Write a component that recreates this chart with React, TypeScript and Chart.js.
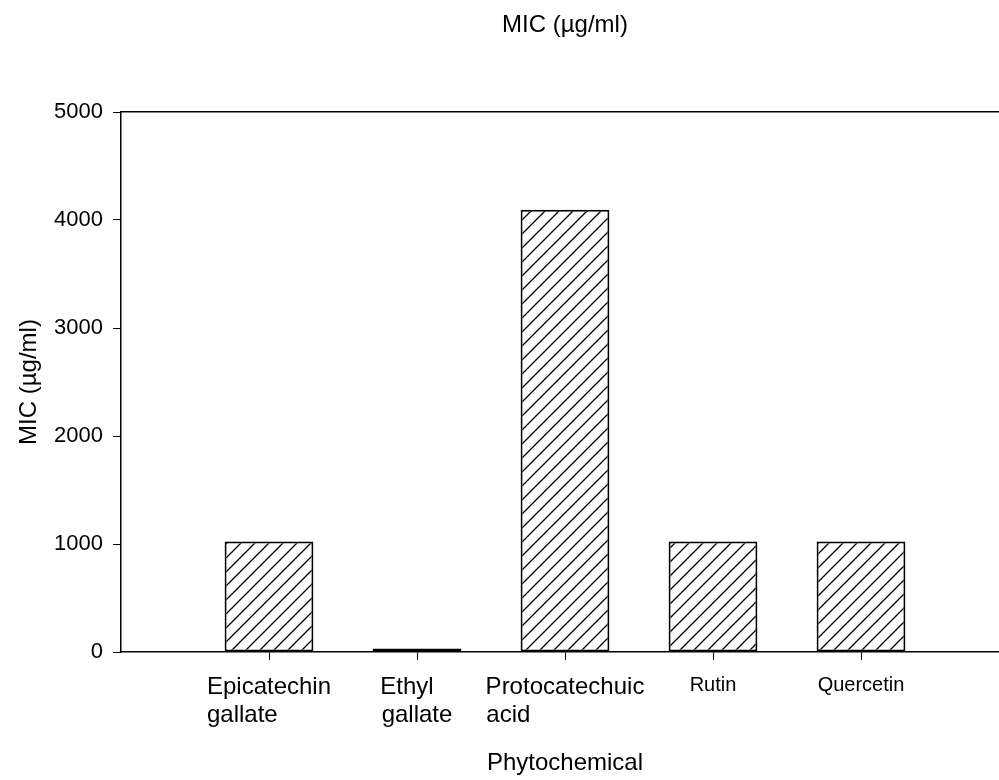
import React, { useEffect, useRef } from "react";
import { Chart, registerables } from "chart.js";

Chart.register(...registerables);

const categoryLabels: string[][] = [
  ["Epicatechin", "gallate"],
  ["Ethyl", "gallate"],
  ["Protocatechuic", "acid"],
  ["Rutin"],
  ["Quercetin"],
];
const categoryPositions = [1, 2, 3, 4, 5];
const micValues = [1024, 32, 4096, 1024, 1024];
const yTickValues = [0, 1000, 2000, 3000, 4000, 5000];
const titleText = "MIC (\u00b5g/ml)";
const xTitleText = "Phytochemical";

const FONT = "'Liberation Sans', Arial, sans-serif";

function makeHatch(): CanvasPattern | string {
  const s = 14;
  const c = document.createElement("canvas");
  c.width = s;
  c.height = s;
  const g = c.getContext("2d");
  if (!g) return "#fff";
  g.fillStyle = "#ffffff";
  g.fillRect(0, 0, s, s);
  g.strokeStyle = "#000000";
  g.lineWidth = 1.3;
  g.beginPath();
  g.moveTo(0, s);
  g.lineTo(s, 0);
  g.moveTo(-s / 2, s / 2);
  g.lineTo(s / 2, -s / 2);
  g.moveTo(s / 2, s + s / 2);
  g.lineTo(s + s / 2, s / 2);
  g.stroke();
  const p = g.createPattern(c, "repeat");
  return p || "#fff";
}

function padLabels(labels: string[][], sizes: number[]): string[][] {
  const c = document.createElement("canvas");
  const g = c.getContext("2d");
  if (!g) return labels;
  return labels.map((lines, i) => {
    g.font = `${sizes[i]}px ${FONT}`;
    const maxW = Math.max(...lines.map((l) => g.measureText(l).width));
    const sp = g.measureText(" ").width;
    return lines.map((l) => {
      let s = l;
      while (g.measureText(s + " ").width <= maxW + sp / 2) s += " ";
      return s;
    });
  });
}

export default function App() {
  const ref = useRef<HTMLCanvasElement | null>(null);

  useEffect(() => {
    const canvas = ref.current;
    if (!canvas) return;
    const tickSizes = categoryLabels.map((_, i) => (i >= 3 ? 20 : 24));
    const padded = padLabels(categoryLabels, tickSizes);
    const hatch = makeHatch();

    const chart = new Chart(canvas, {
      type: "bar",
      data: {
        datasets: [
          {
            data: micValues.map((v, i) => ({ x: categoryPositions[i], y: v })),
            backgroundColor: hatch as any,
            borderColor: "#000000",
            borderWidth: 2,
            borderSkipped: false,
            barPercentage: 0.6,
            categoryPercentage: 1,
          },
        ],
      },
      options: {
        animation: false,
        responsive: false,
        devicePixelRatio: 1,
        layout: { padding: 0 },
        plugins: {
          legend: { display: false },
          tooltip: { enabled: false },
          title: { display: false },
        },
        scales: {
          x: {
            type: "linear",
            position: "bottom",
            min: 0,
            max: 6,
            offset: false,
            afterBuildTicks: (scale: any) => {
              scale.ticks = categoryPositions.map((v) => ({ value: v }));
            },
            afterFit: (scale: any) => {
              scale.height = 128;
            },
            ticks: {
              autoSkip: false,
              maxRotation: 0,
              minRotation: 0,
              padding: 14,
              color: "#000000",
              font: (ctx: any) => {
                const idx = categoryPositions.indexOf(ctx.tick ? ctx.tick.value : -1);
                return { family: FONT, size: idx >= 3 ? 20 : 24, lineHeight: 1.15 };
              },
              callback: (value: any) => {
                const idx = categoryPositions.indexOf(Number(value));
                return idx >= 0 ? padded[idx] : "";
              },
            },
            grid: {
              display: true,
              offset: false,
              drawOnChartArea: false,
              drawTicks: true,
              tickLength: 8,
              color: "#000000",
              lineWidth: 1,
            },
            border: { display: true, color: "#000000", width: 1.5 },
            title: {
              display: true,
              text: xTitleText,
              color: "#000000",
              font: { family: FONT, size: 24 },
              padding: { top: 0, bottom: 2 },
            },
          },
          x2: {
            type: "linear",
            position: "top",
            min: 0,
            max: 6,
            offset: false,
            afterFit: (scale: any) => {
              scale.height = 112;
            },
            ticks: { display: false },
            grid: { display: false, offset: false },
            border: { display: true, color: "#000000", width: 1.5 },
            title: {
              display: true,
              text: titleText,
              color: "#000000",
              font: { family: FONT, size: 24 },
              padding: { top: 11, bottom: 0 },
            },
          },
          y: {
            type: "linear",
            position: "left",
            min: 0,
            max: 5000,
            afterBuildTicks: (scale: any) => {
              scale.ticks = yTickValues.map((v) => ({ value: v }));
            },
            afterFit: (scale: any) => {
              scale.width = 121;
            },
            ticks: {
              padding: 10,
              color: "#000000",
              font: { family: FONT, size: 22 },
              callback: (value: any) => String(value),
            },
            grid: {
              display: true,
              drawOnChartArea: false,
              drawTicks: true,
              tickLength: 8,
              color: "#000000",
              lineWidth: 1,
            },
            border: { display: true, color: "#000000", width: 1.5 },
            title: {
              display: true,
              text: titleText,
              color: "#000000",
              font: { family: FONT, size: 24 },
              padding: { top: 15, bottom: 0 },
            },
          },
        },
      } as any,
    });
    return () => chart.destroy();
  }, []);

  return (
    <div
      style={{
        position: "fixed",
        left: 0,
        top: 0,
        width: 999,
        height: 780,
        overflow: "hidden",
        background: "#ffffff",
      }}
    >
      <canvas ref={ref} width={1009} height={780} style={{ width: 1009, height: 780, display: "block" }} />
    </div>
  );
}
